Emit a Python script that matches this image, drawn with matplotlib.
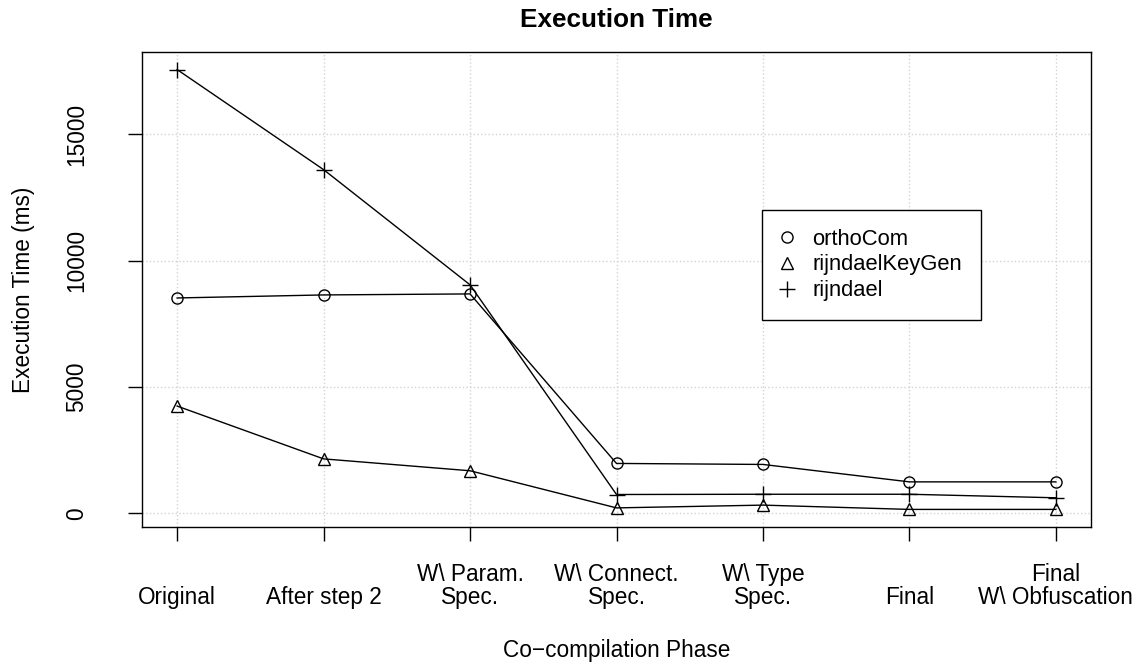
import matplotlib.pyplot as plt
from matplotlib.lines import Line2D

plt.rcParams['font.family'] = ['Liberation Sans', 'DejaVu Sans']

phases = ['Original', 'After step 2', 'W\\ Param.\nSpec.', 'W\\ Connect.\nSpec.',
          'W\\ Type\nSpec.', 'Final', 'Final\nW\\ Obfuscation']
ortho_com = [8520, 8640, 8680, 1970, 1930, 1240, 1240]
rijndael_keygen = [4240, 2150, 1680, 210, 320, 150, 150]
rijndael = [17560, 13600, 9040, 740, 750, 750, 610]

fs = 16.3
fig = plt.figure(figsize=(11.41, 6.64), dpi=100)
ax = fig.add_axes([142 / 1141, 1 - 527 / 664, (1091 - 142) / 1141, (527 - 52) / 664])

x = list(range(1, len(phases) + 1))
series = [(ortho_com, 'o', 8, 'orthoCom'),
          (rijndael_keygen, '^', 9, 'rijndaelKeyGen'),
          (rijndael, '+', 11, 'rijndael')]
handles = []
for valeurs, marqueur, taille, nom in series:
    ax.plot(x, valeurs, color='black', lw=1, marker=marqueur, ms=taille,
            mfc='none', mew=1)
    # poignee de legende sans trait, comme dans R
    handles.append(Line2D([], [], color='black', linestyle='none',
                          marker=marqueur, ms=taille, mfc='none', mew=1,
                          label=nom))

# limites a la R (4% de marge)
ymin = min(min(ortho_com), min(rijndael_keygen), min(rijndael))
ymax = max(max(ortho_com), max(rijndael_keygen), max(rijndael))
ax.set_xlim(1 - 0.04 * 6, 7 + 0.04 * 6)
ax.set_ylim(ymin - 0.04 * (ymax - ymin), ymax + 0.04 * (ymax - ymin))

ax.set_xticks(x)
ax.set_xticklabels(phases, fontsize=fs, linespacing=1.0)
for lab in ax.get_xticklabels():
    lab.set_verticalalignment('bottom')
ax.tick_params(axis='x', length=10, width=1, pad=49)

ax.set_yticks([0, 5000, 10000, 15000])
ax.set_yticklabels(['0', '5000', '10000', '15000'], fontsize=fs,
                   rotation=90, va='center')
ax.tick_params(axis='y', length=10, width=1, pad=29)

ax.grid(True, color='lightgray', linestyle=':', linewidth=1)
for s in ax.spines.values():
    s.set_linewidth(1)

ax.set_title('Execution Time', fontsize=18.8, fontweight='bold', pad=18)
ax.set_xlabel('Co\u2212compilation Phase', fontsize=fs, va='baseline')
ax.xaxis.set_label_coords(0.5, (527 - 657) / (527 - 52))
ax.set_ylabel('Execution Time (ms)', fontsize=fs, va='center')
ax.yaxis.set_label_coords((24 - 142) / (1091 - 142), 0.5)

leg = ax.legend(handles=handles, loc='upper left',
                bbox_to_anchor=(762 / 1141, 1 - 210 / 664),
                bbox_transform=fig.transFigure, fontsize=15.8, frameon=True,
                fancybox=False, framealpha=1, edgecolor='black',
                borderpad=0.85, labelspacing=0.22, handlelength=0.6,
                handletextpad=0.85, borderaxespad=0)
leg.get_frame().set_linewidth(1)

plt.savefig('out.png', dpi=100)
